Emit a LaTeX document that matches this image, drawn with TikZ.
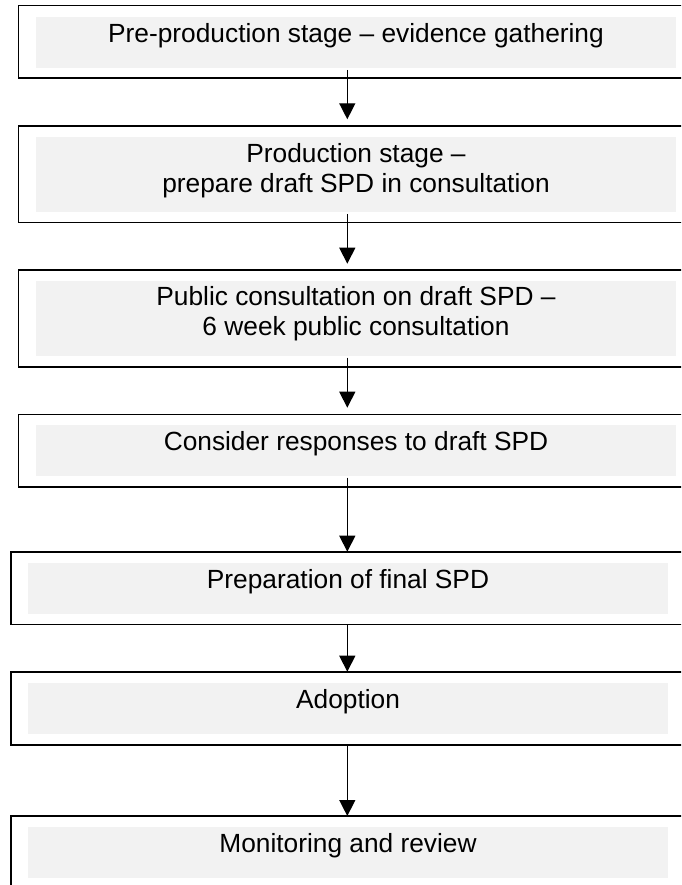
\documentclass[tikz,border=0pt]{standalone}
\usepackage{fontspec}
\setmainfont{Liberation Sans}
\usetikzlibrary{arrows.meta}
\definecolor{boxgray}{HTML}{F2F2F2}
\tikzset{
  outerbox/.style={draw=black, line width=1.6pt, anchor=north west, inner sep=0pt, outer sep=0pt, minimum width=700pt},
  innerbox/.style={fill=boxgray, anchor=north west, inner sep=0pt, outer sep=0pt, minimum width=640pt},
  boxtext/.style={font=\fontsize{26.3}{30}\selectfont, align=center, anchor=base, inner sep=0pt},
  flow/.style={line width=1.4pt, -{Triangle[width=16pt,length=16pt]}}
}
\begin{document}
\begin{tikzpicture}[x=1pt,y=-1pt]
\useasboundingbox (0,0) rectangle (681,885);
\clip (0,0) rectangle (681,885);
\coordinate (ax) at (347.3,0);
% box 1
\node[outerbox, minimum height=72.3pt] (o1) at (18.5,5.7) {};
\node[innerbox, minimum height=51pt] (g1) at (36,17) {};
\node[boxtext] (t1) at (356,42.3) {Pre-production stage – evidence gathering};
% box 2
\node[outerbox, minimum height=96.7pt] (o2) at (18.5,126) {};
\node[innerbox, minimum height=75pt] (g2) at (36,137) {};
\node[boxtext] (t2) at (356,192.3) {Production stage –\\prepare draft SPD in consultation};
% box 3
\node[outerbox, minimum height=96.7pt] (o3) at (18.5,270) {};
\node[innerbox, minimum height=75pt] (g3) at (36,280.7) {};
\node[boxtext] (t3) at (356,335.7) {Public consultation on draft SPD –\\6 week public consultation};
% box 4
\node[outerbox, minimum height=72.4pt] (o4) at (18.5,414.3) {};
\node[innerbox, minimum height=50.7pt] (g4) at (36,425) {};
\node[boxtext] (t4) at (356,450.3) {Consider responses to draft SPD};
% box 5
\node[outerbox, minimum height=72.6pt] (o5) at (10.7,551.7) {};
\node[innerbox, minimum height=51.3pt] (g5) at (28,562.7) {};
\node[boxtext] (t5) at (348,588) {Preparation of final SPD};
% box 6
\node[outerbox, minimum height=73.3pt] (o6) at (10.7,671.7) {};
\node[innerbox, minimum height=51.3pt] (g6) at (28,682.7) {};
\node[boxtext] (t6) at (348,708) {Adoption};
% box 7
\node[outerbox, minimum height=80pt] (o7) at (10.7,816) {};
\node[innerbox, minimum height=51pt] (g7) at (28,826.7) {};
\node[boxtext] (t7) at (348,852) {Monitoring and review};
% connectors
\draw[flow] ([yshift=-2pt]g1.south -| ax) -- ([yshift=6.7pt]o2.north -| ax);
\draw[flow] ([yshift=-2pt]g2.south -| ax) -- ([yshift=6.3pt]o3.north -| ax);
\draw[flow] ([yshift=-2pt]g3.south -| ax) -- ([yshift=6.6pt]o4.north -| ax);
\draw[flow] ([yshift=-2pt]g4.south -| ax) -- (o5.north -| ax);
\draw[flow] (o5.south -| ax) -- (o6.north -| ax);
\draw[flow] (o6.south -| ax) -- (o7.north -| ax);
\end{tikzpicture}
\end{document}
